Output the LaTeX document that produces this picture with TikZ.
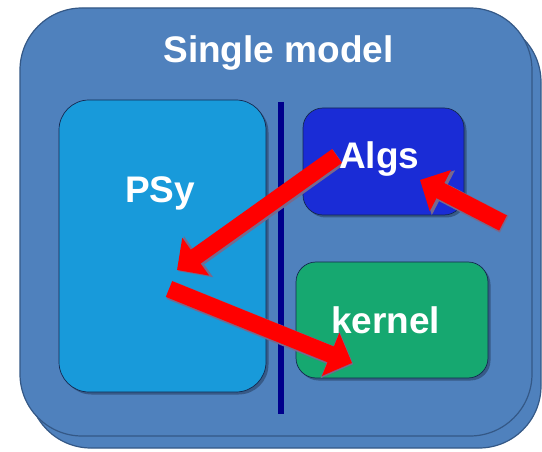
\documentclass[tikz,border=0pt]{standalone}
\usepackage{fontspec}
\setmainfont{Liberation Sans}
\usetikzlibrary{arrows.meta}

\definecolor{panel}{RGB}{79,129,189}
\definecolor{paneledge}{RGB}{52,88,134}
\definecolor{psyfill}{RGB}{24,154,218}
\definecolor{algsfill}{RGB}{26,44,214}
\definecolor{kernfill}{RGB}{22,168,112}
\definecolor{boxedge}{RGB}{20,40,80}
\definecolor{boxshade}{RGB}{55,90,135}
\definecolor{divider}{RGB}{0,0,140}
\definecolor{arrowred}{RGB}{255,0,0}
\definecolor{arrowshade}{RGB}{120,105,140}

\tikzset{
  panelbox/.style={draw=paneledge, line width=1.2pt, fill=panel,
    rounded corners=62pt, minimum width=512pt, minimum height=428pt,
    inner sep=0pt, outer sep=0pt},
  innerbox/.style={draw=boxedge, line width=0.7pt, inner sep=0pt, outer sep=0pt,
    preaction={fill=boxshade, transform canvas={shift={(2.5pt,-2.5pt)}}}},
  labeltext/.style={text=white, font=\fontsize{37}{42}\selectfont\bfseries,
    inner sep=0pt},
  boxtext/.style={labeltext, anchor=base west},
  bigarrow/.style={draw=arrowred, line width=17pt, line cap=butt,
    -{Triangle[length=23pt,width=45pt]},
    preaction={draw=arrowshade, line width=19pt,
      -{Triangle[length=25pt,width=49pt]},
      transform canvas={shift={(1.2pt,-1.2pt)}}}},
}

\begin{document}
\begin{tikzpicture}[x=1pt,y=-1pt]
\useasboundingbox (0,0) rectangle (542,452);
\fill[white] (0,0) rectangle (542,452);

% stacked model panels
\node[panelbox] (backpanel) at (285,234) {};
\node[panelbox] (frontpanel) at (276,222) {};

% component boxes
\node[innerbox, fill=psyfill, rounded corners=30pt,
  minimum width=207pt, minimum height=292pt] (psy) at (162.5,246) {};
\coordinate (divtop) at (281,102);
\coordinate (divbot) at (281,414);
\draw[divider, line width=6pt] (divtop) -- (divbot);
\node[innerbox, fill=algsfill, rounded corners=20pt,
  minimum width=161pt, minimum height=107pt] (algs) at (383.5,161.5) {};
\node[innerbox, fill=kernfill, rounded corners=20pt,
  minimum width=192pt, minimum height=116pt] (kernel) at (392,320) {};

% call flow
\coordinate (outside) at (503,223);
\coordinate (algsin) at (420,180);
\coordinate (algsout) at (337,156);
\coordinate (psyin) at (177,270);
\coordinate (psyout) at (169,289);
\coordinate (kernin) at (352,363);
\draw[bigarrow] (outside) -- (algsin);
\draw[bigarrow] (algsout) -- (psyin);
\draw[bigarrow] (psyout) -- (kernin);

% labels
\node[labeltext, anchor=base] (title) at (278.5,63) {Single model};
\node[boxtext] (psylabel) at (125,203) {PSy};
\node[boxtext] (algslabel) at (339,168) {Algs};
\node[boxtext] (kernlabel) at (331,333) {kernel};
\end{tikzpicture}
\end{document}
